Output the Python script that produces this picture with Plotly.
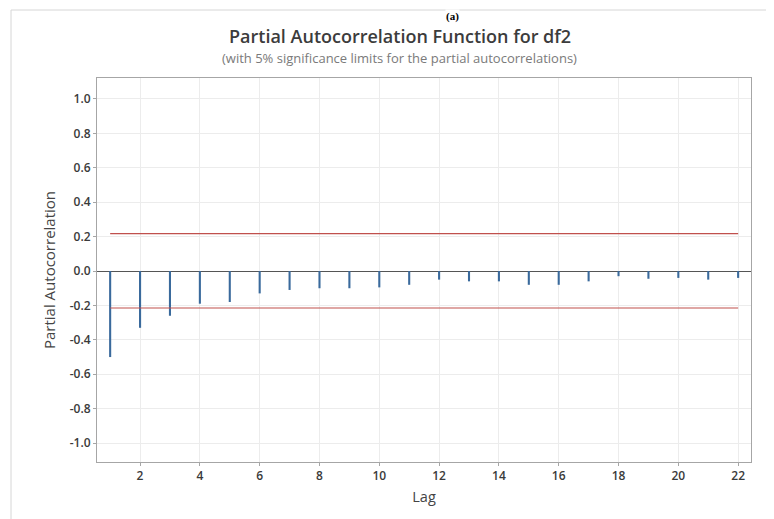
import plotly.graph_objects as go

lags = list(range(1, 23))
pacf = [-0.50, -0.33, -0.26, -0.19, -0.18, -0.13, -0.11, -0.10, -0.10, -0.095, -0.08,
        -0.05, -0.06, -0.06, -0.08, -0.08, -0.06, -0.03, -0.045, -0.04, -0.05, -0.04]
upper_limit = 0.218
lower_limit = -0.215
x_ticks = list(range(2, 23, 2))
y_ticks = [-1.0, -0.8, -0.6, -0.4, -0.2, 0.0, 0.2, 0.4, 0.6, 0.8, 1.0]
y_tick_labels = ["-1.0", "-0.8", "-0.6", "-0.4", "-0.2", "0.0", "0.2", "0.4", "0.6", "0.8", "1.0"]

# page body has an 8px margin; figure sized so the plot lands where the reference has it
OFF = 8
W, H = 774 - OFF, 519 - OFF
L, R, T, B = 97 - OFF, 23, 78 - OFF, 57
pw, ph = W - L - R, H - T - B

def px(x):  # screen pixel -> paper
    return (x - OFF - L) / pw

def py(y):
    return 1 - (y - OFF - T) / ph

fig = go.Figure()
fig.add_trace(go.Scatter(x=lags, y=[upper_limit] * len(lags), mode="lines",
                         line=dict(color="#c0504d", width=1.2), hoverinfo="skip"))
fig.add_trace(go.Scatter(x=lags, y=[lower_limit] * len(lags), mode="lines",
                         line=dict(color="#c0504d", width=1.2), hoverinfo="skip"))
fig.add_trace(go.Bar(x=lags, y=pacf, width=0.07, marker=dict(color="#3a6a9c", line=dict(width=0))))

font_fam = "Open Sans, Noto Sans, sans-serif"
fig.update_layout(
    width=W, height=H,
    margin=dict(l=L, r=R, t=T, b=B),
    paper_bgcolor="white", plot_bgcolor="white",
    showlegend=False,
    font=dict(family=font_fam, color="#444444", size=11),
    xaxis=dict(range=[0.56, 22.43], tickvals=x_ticks, showgrid=True, gridcolor="#ececec",
               gridwidth=1, zeroline=False, showline=True, linecolor="#a6a6a6", mirror=True,
               ticks="outside", ticklen=3, tickcolor="#a6a6a6",
               tickfont=dict(size=12, color="#3a3a3a", weight=600),
               title=dict(text="Lag", font=dict(size=14.5, color="#444444"), standoff=8)),
    yaxis=dict(range=[-1.11, 1.122], tickvals=y_ticks, ticktext=y_tick_labels, showgrid=True,
               gridcolor="#ececec", gridwidth=1, zeroline=True, zerolinecolor="#555555",
               zerolinewidth=1, showline=True, linecolor="#a6a6a6", mirror=True,
               ticks="outside", ticklen=3, tickcolor="#a6a6a6",
               tickfont=dict(size=12, color="#3a3a3a", weight=600),
               title=dict(text="Partial Autocorrelation", font=dict(size=15, color="#444444"), standoff=10)),
    annotations=[
        dict(text="Partial Autocorrelation Function for df2", x=px(400), y=py(36.5), xref="paper",
             yref="paper", showarrow=False, xanchor="center", yanchor="middle",
             font=dict(size=18, color="#3c3c3c", family=font_fam, weight=600)),
        dict(text="(with 5% significance limits for the partial autocorrelations)", x=px(399), y=py(58),
             xref="paper", yref="paper", showarrow=False, xanchor="center", yanchor="middle",
             font=dict(size=13, color="#7a7a7a", family=font_fam)),
        dict(text="<b>(a)</b>", x=px(452), y=py(16), xref="paper", yref="paper", showarrow=False,
             xanchor="center", yanchor="middle", bgcolor="white", borderpad=0,
             font=dict(size=11, color="#000000", family="Liberation Serif, Times New Roman, serif")),
    ],
    shapes=[
        dict(type="rect", xref="paper", yref="paper", x0=px(11), x1=px(800), y0=py(540), y1=py(10),
             line=dict(color="#d6d6d6", width=1), fillcolor="rgba(0,0,0,0)", layer="below"),
    ],
)

fig.write_html("out.html")
